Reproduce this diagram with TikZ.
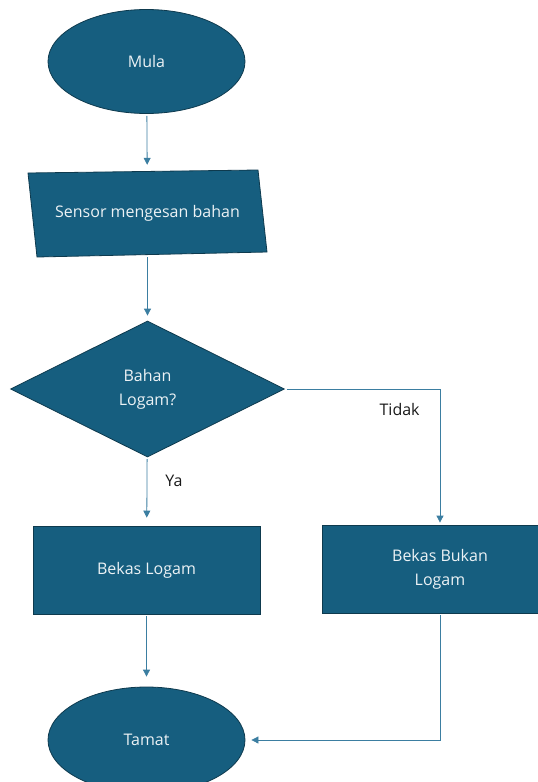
\documentclass[tikz,border=0pt]{standalone}
\usepackage{fontspec}
\setmainfont{Open Sans}
\usetikzlibrary{shapes.geometric, arrows.meta}
\definecolor{boxfill}{HTML}{165E7F}
\definecolor{boxedge}{HTML}{0E3A4E}
\definecolor{wire}{HTML}{3B7EA1}
\tikzstyle{every node}=[inner sep=0pt]
\tikzstyle{shapebox}=[draw=boxedge, line width=0.8pt, fill=boxfill, text=white!92!boxfill, align=center]
\tikzstyle{terminal}=[shapebox, ellipse, minimum width=197pt, minimum height=104pt]
\tikzstyle{decision}=[shapebox, diamond, minimum width=274pt, minimum height=136pt]
\tikzstyle{process}=[shapebox, rectangle, minimum height=88pt]
\tikzstyle{wireline}=[draw=wire, line width=0.8pt, -{Triangle[width=7pt, length=7pt]}, shorten <=2pt]
\tikzstyle{tag}=[text=black!90]

\begin{document}
\begin{tikzpicture}[x=1pt, y=-1pt, font=\fontsize{16}{24}\selectfont]
    \useasboundingbox (0,0) rectangle (538,782);
% Shapes
    \node[terminal] (mula) at (146.5,61.5) {Mula};
    \draw[shapebox] (28,173) -- (258,170) -- (267,252) -- (37,257) -- cycle;
    \node[text=white!92!boxfill, minimum width=230pt, minimum height=84pt] (sensor) at (147.5,213) {Sensor mengesan bahan};
    \node[decision] (logam) at (147.5,389) {Bahan\\Logam?};
    \node[process, minimum width=227pt] (bekas) at (146.5,570) {Bekas Logam};
    \node[process, minimum width=236pt] (bukan) at (440,569) {Bekas Bukan\\Logam};
    \node[terminal, minimum height=106pt] (tamat) at (146.5,740) {Tamat};
% Flow
    \draw[wireline, shorten >=6pt] (mula) -- (sensor);
    \draw[wireline, shorten >=5pt] (sensor) -- (logam);
    \draw[wireline, shorten >=8pt] (logam) -- node[tag, pos=0.35, right=18pt] {Ya} (bekas);
    \draw[wireline, shorten >=2pt] (logam.east) -| node[tag, pos=0.5, anchor=north east, xshift=-20pt, yshift=-14pt] {Tidak} (bukan);
    \draw[wireline, shorten >=10pt] (bekas) -- (tamat);
    \draw[wireline, shorten >=6pt] (bukan) |- (tamat);
\end{tikzpicture}
\end{document}
